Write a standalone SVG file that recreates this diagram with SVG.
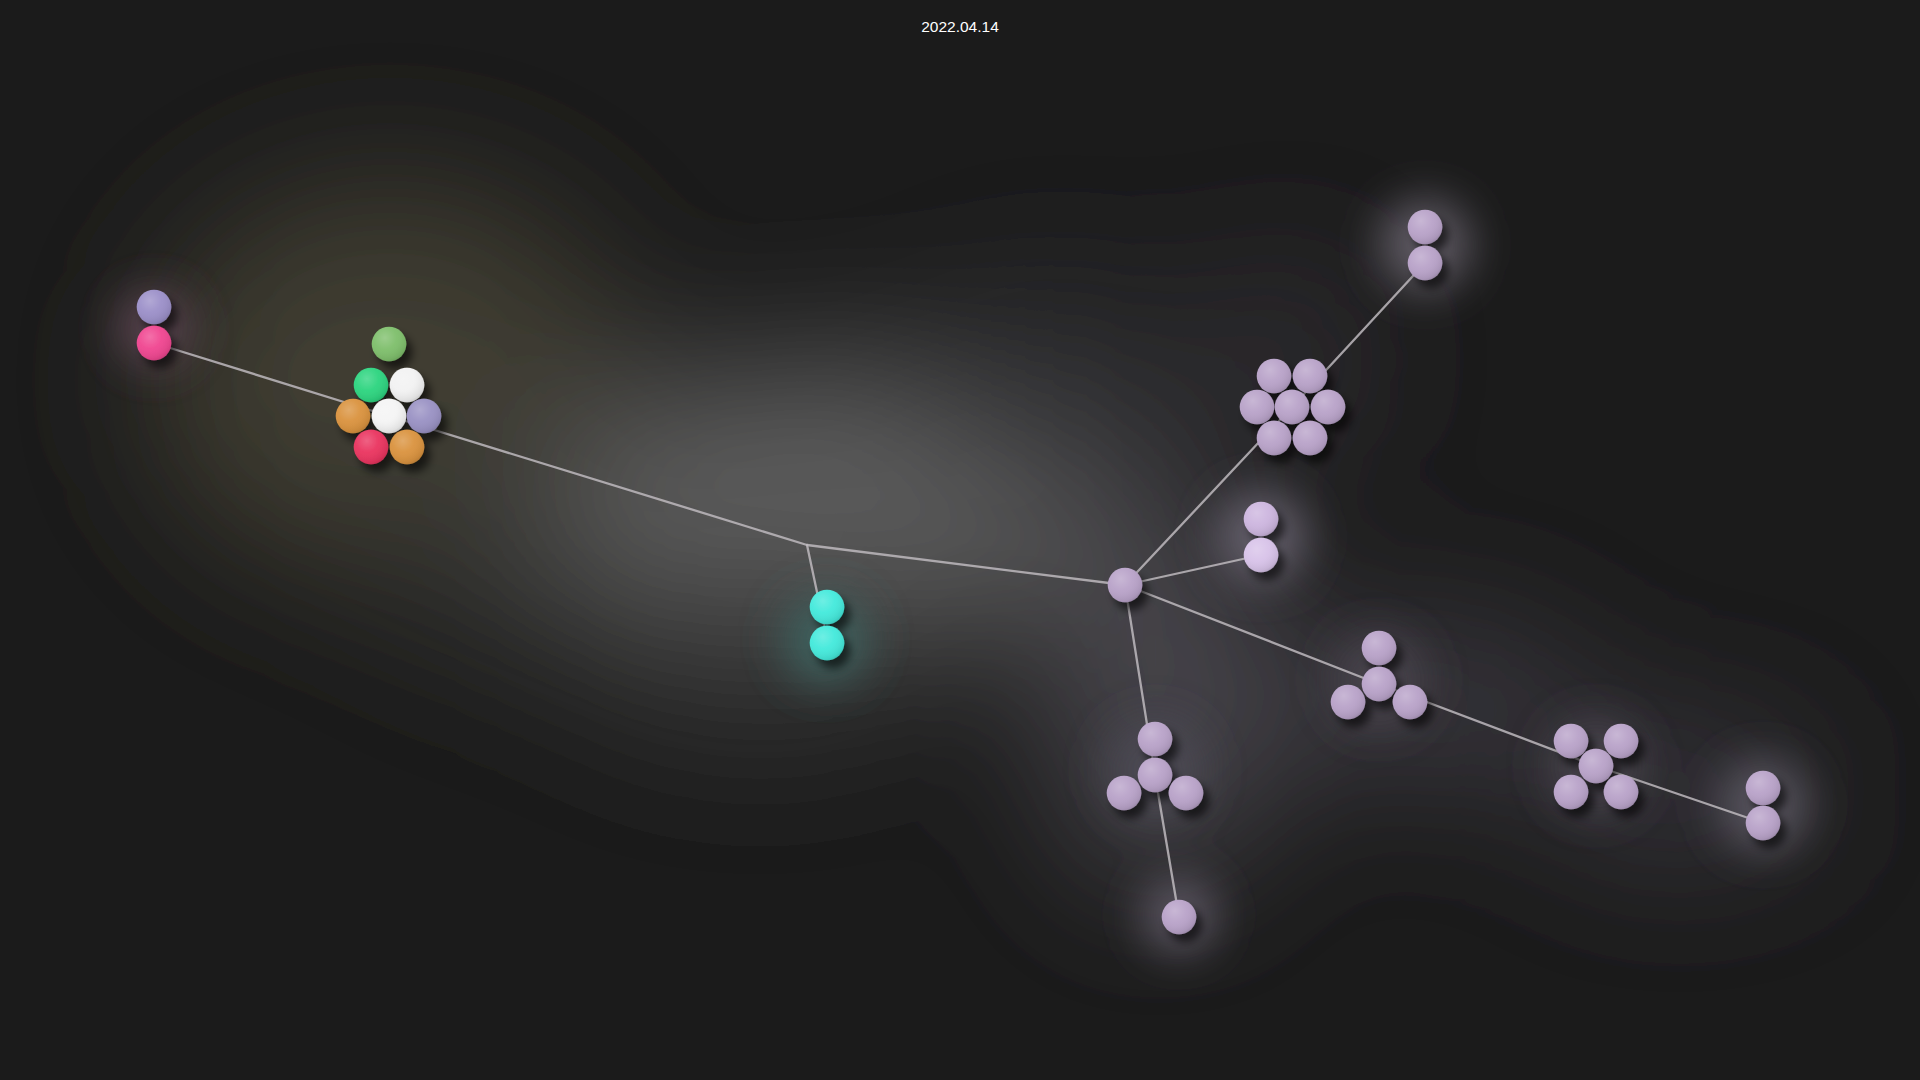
<svg xmlns="http://www.w3.org/2000/svg" width="1920" height="1080" viewBox="0 0 1920 1080">
<defs>
<filter id="fog" filterUnits="userSpaceOnUse" x="-200" y="-200" width="2320" height="1480"><feGaussianBlur stdDeviation="75"/></filter>
<filter id="halo" filterUnits="userSpaceOnUse" x="-200" y="-200" width="2320" height="1480"><feGaussianBlur stdDeviation="22"/></filter>
<filter id="sh" x="-30%" y="-30%" width="170%" height="170%"><feDropShadow dx="6" dy="8" stdDeviation="4.5" flood-color="#000" flood-opacity="0.6"/></filter>
<filter id="eg" filterUnits="userSpaceOnUse" x="0" y="0" width="1920" height="1080"><feGaussianBlur stdDeviation="0.6"/></filter>
<radialGradient id="hl" cx="0.38" cy="0.32" r="0.75">
<stop offset="0" stop-color="#fff" stop-opacity="0.22"/>
<stop offset="0.45" stop-color="#fff" stop-opacity="0.04"/>
<stop offset="0.85" stop-color="#000" stop-opacity="0.08"/>
<stop offset="1" stop-color="#000" stop-opacity="0.2"/>
</radialGradient>
</defs>
<style>
.s{fill:url(#hl)}
.node{filter:url(#sh)}
.lav{fill:#b9a3c9}
.edge{stroke:#bdb9bd;stroke-width:2.3;stroke-opacity:0.85;fill:none;stroke-linecap:round}
text{font-family:"Liberation Sans",Arial,sans-serif}
</style>
<rect width="1920" height="1080" fill="#1b1b1b"/>
<g id="background-fog" filter="url(#fog)">
<ellipse cx="390" cy="380" rx="240" ry="200" fill="#403c32"/>
<ellipse cx="560" cy="550" rx="190" ry="110" fill="#353532"/>
<ellipse cx="840" cy="500" rx="280" ry="140" fill="#5e5e5e"/>
<ellipse cx="760" cy="650" rx="190" ry="85" fill="#383838"/>
<ellipse cx="1060" cy="390" rx="140" ry="100" fill="#333335"/>
<ellipse cx="1160" cy="690" rx="115" ry="200" fill="#47444c"/>
<ellipse cx="1420" cy="700" rx="170" ry="75" fill="#3d3a42"/>
<ellipse cx="1680" cy="790" rx="140" ry="65" fill="#3b383f"/>
<ellipse cx="1290" cy="360" rx="65" ry="100" fill="#343238"/>
</g>
<g id="halos" filter="url(#halo)">
<circle cx="154" cy="328" r="38" fill="#584250"/>
<circle cx="826" cy="640" r="44" fill="#3c605d"/>
<circle cx="1425" cy="245" r="46" fill="#5e5a64"/>
<circle cx="1261" cy="537" r="46" fill="#625d69"/>
<circle cx="1179" cy="915" r="38" fill="#5a5560"/>
<circle cx="1763" cy="805" r="46" fill="#57535d"/>
<circle cx="1596" cy="766" r="48" fill="#46434c"/>
<circle cx="1155" cy="770" r="50" fill="#4c4852"/>
<circle cx="1379" cy="680" r="48" fill="#46434c"/>
</g>
<text x="960" y="31.5" font-size="15.5" fill="#ffffff" text-anchor="middle">2022.04.14</text>
<g id="connectors" filter="url(#eg)">
<line class="edge" x1="154" y1="343" x2="389" y2="416" stroke="#b8a9ad"/>
<line class="edge" x1="389" y1="416" x2="807" y2="545"/>
<line class="edge" x1="807" y1="545" x2="824" y2="625"/>
<line class="edge" x1="807" y1="545" x2="1125" y2="585"/>
<line class="edge" x1="1125" y1="585" x2="1261" y2="555"/>
<line class="edge" x1="1125" y1="585" x2="1292" y2="407"/>
<line class="edge" x1="1292" y1="407" x2="1425" y2="263"/>
<line class="edge" x1="1125" y1="585" x2="1379" y2="684"/>
<line class="edge" x1="1379" y1="684" x2="1596" y2="766"/>
<line class="edge" x1="1596" y1="766" x2="1763" y2="823"/>
<line class="edge" x1="1125" y1="585" x2="1155" y2="775"/>
<line class="edge" x1="1155" y1="775" x2="1179" y2="917"/>
</g>
<g id="node-pink-pair" class="node">
<circle cx="154" cy="307" r="17.3" fill="#9c90c9"/><circle class="s" cx="154" cy="307" r="17.3"/>
<circle cx="154" cy="343" r="17.3" fill="#f04791"/><circle class="s" cx="154" cy="343" r="17.3"/>
</g>
<g id="node-color-cluster" class="node">
<circle cx="389" cy="344" r="17.3" fill="#7fbf6c"/><circle class="s" cx="389" cy="344" r="17.3"/>
<circle cx="371" cy="385" r="17.3" fill="#2ed580"/><circle class="s" cx="371" cy="385" r="17.3"/>
<circle cx="407" cy="385" r="17.3" fill="#f2f2f2"/><circle class="s" cx="407" cy="385" r="17.3"/>
<circle cx="353" cy="416" r="17.3" fill="#da933f"/><circle class="s" cx="353" cy="416" r="17.3"/>
<circle cx="389" cy="416" r="17.3" fill="#f4f4f4"/><circle class="s" cx="389" cy="416" r="17.3"/>
<circle cx="424" cy="416" r="17.3" fill="#9a92c4"/><circle class="s" cx="424" cy="416" r="17.3"/>
<circle cx="371" cy="447" r="17.3" fill="#ea3560"/><circle class="s" cx="371" cy="447" r="17.3"/>
<circle cx="407" cy="447" r="17.3" fill="#da933f"/><circle class="s" cx="407" cy="447" r="17.3"/>
</g>
<g id="node-teal-pair" class="node">
<circle cx="827" cy="607" r="17.3" fill="#45eadc"/><circle class="s" cx="827" cy="607" r="17.3"/>
<circle cx="827" cy="643" r="17.3" fill="#45eadc"/><circle class="s" cx="827" cy="643" r="17.3"/>
</g>
<g id="node-hub" class="node">
<circle class="lav" cx="1125" cy="585" r="17.3"/><circle class="s" cx="1125" cy="585" r="17.3"/>
</g>
<g id="node-near-pair" class="node">
<circle cx="1261" cy="519" r="17.3" fill="#cdb6df"/><circle class="s" cx="1261" cy="519" r="17.3"/>
<circle cx="1261" cy="555" r="17.3" fill="#d8c3e9"/><circle class="s" cx="1261" cy="555" r="17.3"/>
</g>
<g id="node-hex-cluster" class="node">
<circle class="lav" cx="1274" cy="376" r="17.3"/><circle class="s" cx="1274" cy="376" r="17.3"/>
<circle class="lav" cx="1310" cy="376" r="17.3"/><circle class="s" cx="1310" cy="376" r="17.3"/>
<circle class="lav" cx="1257" cy="407" r="17.3"/><circle class="s" cx="1257" cy="407" r="17.3"/>
<circle class="lav" cx="1292" cy="407" r="17.3"/><circle class="s" cx="1292" cy="407" r="17.3"/>
<circle class="lav" cx="1328" cy="407" r="17.3"/><circle class="s" cx="1328" cy="407" r="17.3"/>
<circle class="lav" cx="1274" cy="438" r="17.3"/><circle class="s" cx="1274" cy="438" r="17.3"/>
<circle class="lav" cx="1310" cy="438" r="17.3"/><circle class="s" cx="1310" cy="438" r="17.3"/>
</g>
<g id="node-top-pair" class="node">
<circle class="lav" cx="1425" cy="227" r="17.3"/><circle class="s" cx="1425" cy="227" r="17.3"/>
<circle class="lav" cx="1425" cy="263" r="17.3"/><circle class="s" cx="1425" cy="263" r="17.3"/>
</g>
<g id="node-right-triad" class="node">
<circle class="lav" cx="1379" cy="648" r="17.3"/><circle class="s" cx="1379" cy="648" r="17.3"/>
<circle class="lav" cx="1379" cy="684" r="17.3"/><circle class="s" cx="1379" cy="684" r="17.3"/>
<circle class="lav" cx="1348" cy="702" r="17.3"/><circle class="s" cx="1348" cy="702" r="17.3"/>
<circle class="lav" cx="1410" cy="702" r="17.3"/><circle class="s" cx="1410" cy="702" r="17.3"/>
</g>
<g id="node-x-cluster" class="node">
<circle class="lav" cx="1571" cy="741" r="17.3"/><circle class="s" cx="1571" cy="741" r="17.3"/>
<circle class="lav" cx="1621" cy="741" r="17.3"/><circle class="s" cx="1621" cy="741" r="17.3"/>
<circle class="lav" cx="1596" cy="766" r="17.3"/><circle class="s" cx="1596" cy="766" r="17.3"/>
<circle class="lav" cx="1571" cy="792" r="17.3"/><circle class="s" cx="1571" cy="792" r="17.3"/>
<circle class="lav" cx="1621" cy="792" r="17.3"/><circle class="s" cx="1621" cy="792" r="17.3"/>
</g>
<g id="node-far-pair" class="node">
<circle class="lav" cx="1763" cy="788" r="17.3"/><circle class="s" cx="1763" cy="788" r="17.3"/>
<circle class="lav" cx="1763" cy="823" r="17.3"/><circle class="s" cx="1763" cy="823" r="17.3"/>
</g>
<g id="node-lower-triad" class="node">
<circle class="lav" cx="1155" cy="739" r="17.3"/><circle class="s" cx="1155" cy="739" r="17.3"/>
<circle class="lav" cx="1155" cy="775" r="17.3"/><circle class="s" cx="1155" cy="775" r="17.3"/>
<circle class="lav" cx="1124" cy="793" r="17.3"/><circle class="s" cx="1124" cy="793" r="17.3"/>
<circle class="lav" cx="1186" cy="793" r="17.3"/><circle class="s" cx="1186" cy="793" r="17.3"/>
</g>
<g id="node-bottom-single" class="node">
<circle class="lav" cx="1179" cy="917" r="17.3"/><circle class="s" cx="1179" cy="917" r="17.3"/>
</g>
</svg>
